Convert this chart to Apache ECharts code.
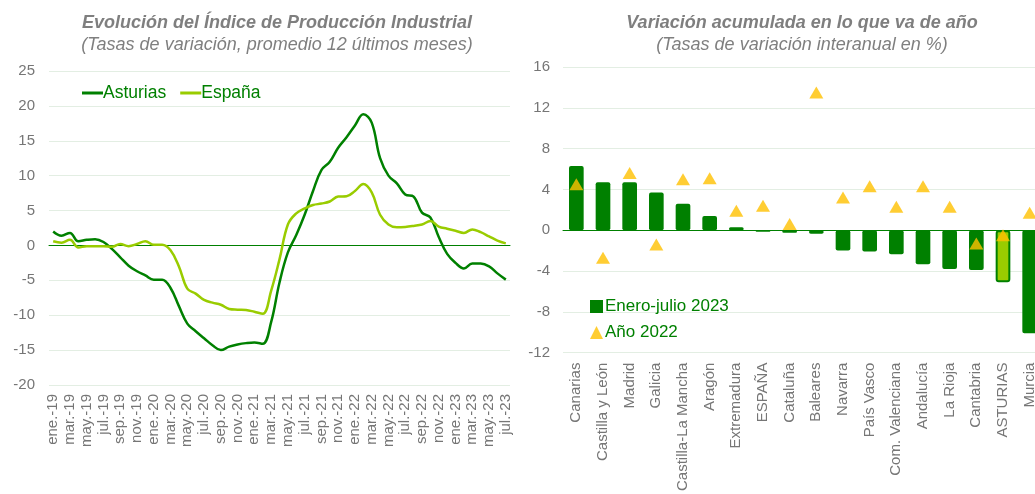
<!DOCTYPE html>
<html>
<head>
    <meta charset="utf-8">
    <script src="https://cdn.jsdelivr.net/npm/echarts@6/dist/echarts.min.js"></script>
    <style>
        body { margin: 0; background: #fff; overflow: hidden; }
    </style>
</head>
<body>
<!-- un poco más ancho que la ventana: la última barra (Murcia) queda cortada como en el original -->
<div id="main" style="width: 1045px;height:494px;"></div>
</body>
<script>
    // meses, ene.-19 .. jul.-23
    var meses = [
        'ene.-19','feb.-19','mar.-19','abr.-19','may.-19','jun.-19','jul.-19','ago.-19','sep.-19','oct.-19','nov.-19','dic.-19',
        'ene.-20','feb.-20','mar.-20','abr.-20','may.-20','jun.-20','jul.-20','ago.-20','sep.-20','oct.-20','nov.-20','dic.-20',
        'ene.-21','feb.-21','mar.-21','abr.-21','may.-21','jun.-21','jul.-21','ago.-21','sep.-21','oct.-21','nov.-21','dic.-21',
        'ene.-22','feb.-22','mar.-22','abr.-22','may.-22','jun.-22','jul.-22','ago.-22','sep.-22','oct.-22','nov.-22','dic.-22',
        'ene.-23','feb.-23','mar.-23','abr.-23','may.-23','jun.-23','jul.-23'
    ];
    var asturias = [
        2.0, 1.4, 1.8, 0.6, 0.8, 0.9, 0.5, -0.5, -1.7, -2.9, -3.7, -4.3,
        -4.9, -4.9, -6.1, -8.7, -11.2, -12.3, -13.3, -14.3, -15.0, -14.5, -14.2, -14.0,
        -13.9, -14.1, -11.0, -5.3, -1.0, 1.5, 4.4, 7.8, 10.8, 12.0, 14.0, 15.5,
        17.2, 18.8, 17.6, 12.5, 10.0, 8.9, 7.3, 7.0, 4.7, 4.0, 1.2, -1.2,
        -2.5, -3.3, -2.6, -2.6, -3.0, -4.0, -4.9
    ];
    var espana = [
        0.6, 0.4, 0.8, -0.3, -0.1, -0.1, -0.1, -0.2, 0.2, -0.1, 0.2, 0.6,
        0.1, 0.1, -0.7, -3.0, -6.2, -6.9, -7.8, -8.2, -8.5, -9.1, -9.2, -9.25,
        -9.5, -9.8, -6.5, -2.0, 3.0, 4.6, 5.3, 5.8, 6.0, 6.3, 7.0, 7.05,
        7.8, 8.8, 7.6, 4.4, 3.0, 2.6, 2.65, 2.8, 3.0, 3.5, 2.7, 2.4,
        2.1, 1.8, 2.3, 1.9, 1.3, 0.7, 0.3
    ];

    var regiones = ['Canarias', 'Castilla y León', 'Madrid', 'Galicia', 'Castilla-La Mancha', 'Aragón',
        'Extremadura', 'ESPAÑA', 'Cataluña', 'Baleares', 'Navarra', 'País Vasco', 'Com. Valenciana',
        'Andalucía', 'La Rioja', 'Cantabria', 'ASTURIAS', 'Murcia'];
    var eneJul2023 = [6.3, 4.7, 4.7, 3.7, 2.6, 1.4, 0.3, -0.15, -0.25, -0.35, -2.0, -2.1, -2.35, -3.35, -3.8, -3.9, -5.1, -10.1];
    var anio2022 = [4.5, -2.7, 5.6, -1.4, 5.0, 5.1, 1.9, 2.4, 0.6, 13.5, 3.2, 4.3, 2.3, 4.3, 2.3, -1.3, -0.5, 1.7];

    var gris = '#767676';
    var verde = '#008000';
    var verdeClaro = '#99cc00';
    var rejilla = '#e3eee3';

    var barData = eneJul2023.map(function (v, i) {
        if (regiones[i] === 'ASTURIAS') {
            return { value: v, itemStyle: { color: verdeClaro, borderColor: verde, borderWidth: 2 } };
        }
        return v;
    });

    var myChart = echarts.init(document.getElementById('main'));

    var option = {
        animation: false,
        title: [
            {
                text: 'Evolución del Índice de Producción Industrial',
                subtext: '(Tasas de variación, promedio 12 últimos meses)',
                left: 272, top: 9, textAlign: 'center', itemGap: 4,
                textStyle: { color: '#7f7f7f', fontSize: 18, fontStyle: 'italic', fontWeight: 'bold', fontFamily: 'Liberation Sans' },
                subtextStyle: { color: '#7f7f7f', fontSize: 18, fontStyle: 'italic', fontFamily: 'Liberation Sans' }
            },
            {
                text: 'Variación acumulada en lo que va de año',
                subtext: '(Tasas de variación interanual en %)',
                left: 797, top: 9, textAlign: 'center', itemGap: 4,
                textStyle: { color: '#7f7f7f', fontSize: 18, fontStyle: 'italic', fontWeight: 'bold', fontFamily: 'Liberation Sans' },
                subtextStyle: { color: '#7f7f7f', fontSize: 18, fontStyle: 'italic', fontFamily: 'Liberation Sans' }
            }
        ],
        legend: [
            {
                data: [{ name: 'Asturias', icon: 'rect' }, { name: 'España', icon: 'rect' }],
                left: 77, top: 79,
                itemWidth: 21, itemHeight: 3, itemGap: 14,
                textStyle: { color: verde, fontSize: 17.5, fontFamily: 'Liberation Sans', padding: [0, 0, 0, -5] }
            },
            {
                data: [{ name: 'Enero-julio 2023', icon: 'rect' }, { name: 'Año 2022', icon: 'triangle' }],
                orient: 'vertical',
                left: 585, top: 293,
                itemWidth: 13, itemHeight: 13, itemGap: 9,
                textStyle: { color: verde, fontSize: 17, fontFamily: 'Liberation Sans', padding: [0, 0, 0, -3] }
            }
        ],
        grid: [
            { left: 49, width: 461, top: 71, bottom: 109 },
            { left: 563, width: 480, top: 67, bottom: 138 }
        ],
        xAxis: [
            {
                type: 'category', gridIndex: 0, data: meses,
                axisLine: { onZero: true, lineStyle: { color: verde, width: 1 } },
                axisTick: { show: false },
                axisLabel: { interval: 1, rotate: 90, color: gris, fontSize: 15, margin: 9, fontFamily: 'Liberation Sans' }
            },
            {
                type: 'category', gridIndex: 1, data: regiones,
                axisLine: { onZero: true, lineStyle: { color: verde, width: 1 } },
                axisTick: { show: false },
                axisLabel: { interval: 0, rotate: 90, color: gris, fontSize: 15, margin: 10, fontFamily: 'Liberation Sans' }
            }
        ],
        yAxis: [
            {
                type: 'value', gridIndex: 0, min: -20, max: 25, interval: 5,
                axisLine: { show: false }, axisTick: { show: false },
                axisLabel: { color: gris, fontSize: 15, margin: 14, fontFamily: 'Liberation Sans' },
                splitLine: { lineStyle: { color: rejilla, width: 1 } }
            },
            {
                type: 'value', gridIndex: 1, min: -12, max: 16, interval: 4,
                axisLine: { show: false }, axisTick: { show: false },
                axisLabel: { color: gris, fontSize: 15, margin: 13, fontFamily: 'Liberation Sans' },
                splitLine: { lineStyle: { color: rejilla, width: 1 } }
            }
        ],
        series: [
            {
                name: 'Asturias', type: 'line', xAxisIndex: 0, yAxisIndex: 0,
                data: asturias, smooth: 0.4, symbol: 'none',
                lineStyle: { color: verde, width: 2.5 }, itemStyle: { color: verde }
            },
            {
                name: 'España', type: 'line', xAxisIndex: 0, yAxisIndex: 0,
                data: espana, smooth: 0.4, symbol: 'none',
                lineStyle: { color: verdeClaro, width: 2.5 }, itemStyle: { color: verdeClaro }
            },
            {
                name: 'Enero-julio 2023', type: 'bar', xAxisIndex: 1, yAxisIndex: 1,
                data: barData, barWidth: '55%',
                itemStyle: { color: verde, borderRadius: 2 }
            },
            {
                name: 'Año 2022', type: 'scatter', xAxisIndex: 1, yAxisIndex: 1,
                data: anio2022, symbol: 'triangle', symbolSize: [14, 12],
                itemStyle: { color: '#ffc000' }, z: 5
            }
        ]
    };

    myChart.setOption(option);
</script>
</html>
